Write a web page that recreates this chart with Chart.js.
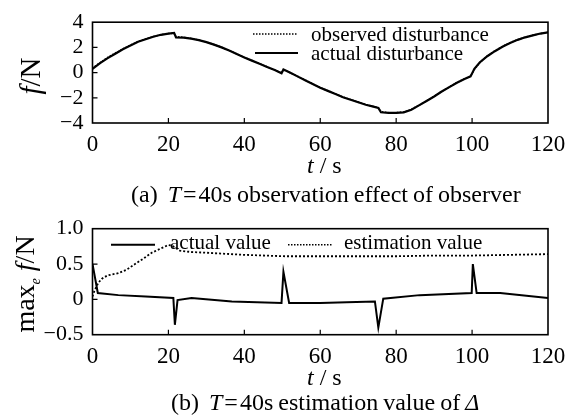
<!DOCTYPE html>
<html lang="en">
<head>
  <meta charset="UTF-8">
  <title>T=40s observer</title>
  <script src="https://cdn.jsdelivr.net/npm/chart.js"></script>
  <style>
    body { margin: 0; background: #fff; }
    #wrap { position: relative; width: 574px; height: 419px; font-family: "Liberation Serif", serif; color: #000; }
    canvas { position: absolute; left: 0; }
    .lbl { position: absolute; white-space: nowrap; line-height: 1; }
    .rot { transform: translate(-50%, -50%) rotate(-90deg); }
    .cap { font-size: 24px; word-spacing: -1px; }
  </style>
</head>
<body>
<div id="wrap">
  <canvas id="topChart" width="574" height="200" style="top:0"></canvas>
  <canvas id="botChart" width="574" height="219" style="top:200px"></canvas>

  <div class="lbl rot" style="font-size:29px; left:30px; top:76px;"><i>f</i>/N</div>
  <div class="lbl rot" style="font-size:28px; left:27px; top:284px;">max<sub style="font-size:14px;font-style:italic">e</sub> <i>f</i>/N</div>

  <div class="lbl" style="font-size:24px; left:307px; top:153px;"><i>t</i> / s</div>
  <div class="lbl" style="font-size:24px; left:307px; top:365px;"><i>t</i> / s</div>

  <div class="lbl cap" style="left:131px; top:182px;">(a)&nbsp;&nbsp;<i>T</i>&#8202;=&#8202;40s observation effect of observer</div>
  <div class="lbl cap" style="left:171px; top:390px;">(b)&nbsp;&nbsp;<i>T</i>&#8202;=&#8202;40s estimation value of <i>Δ</i></div>
</div>

<script>
// x axis (time, s)
const timeTicks = [0, 20, 40, 60, 80, 100, 120];

// (a) disturbance f (N)
const fTicks = [-4, -2, 0, 2, 4];
const fTickLabels = ["−4", "−2", "0", "2", "4"];
const tTop = [0,2,4,6,8,10,12,14,16,18,20,21.5,22,24,26,28,30,32,34,36,38,40,42,44,46,48,49.8,50.3,52,54,56,58,60,62,64,66,68,70,72,74,75.3,76,78,80,82,84,86,88,90,92,94,96,98,99.6,100.6,102,104,106,108,110,112,114,116,118,120];
const fActual = [0.3,0.75,1.15,1.5,1.85,2.15,2.45,2.65,2.85,3.0,3.1,3.15,2.8,2.78,2.7,2.58,2.42,2.22,2.0,1.75,1.48,1.2,0.95,0.7,0.45,0.2,-0.05,0.25,0.0,-0.3,-0.6,-0.9,-1.2,-1.45,-1.7,-1.95,-2.15,-2.35,-2.55,-2.7,-2.8,-3.15,-3.2,-3.2,-3.15,-2.95,-2.6,-2.25,-1.9,-1.5,-1.15,-0.8,-0.5,-0.3,0.3,0.8,1.3,1.7,2.05,2.35,2.6,2.8,2.95,3.1,3.2];
const fObserved = [0.35,0.8,1.2,1.55,1.88,2.18,2.47,2.67,2.86,3.0,3.1,3.12,2.85,2.8,2.71,2.59,2.43,2.23,2.01,1.76,1.49,1.21,0.96,0.71,0.46,0.21,-0.03,0.22,0.0,-0.29,-0.59,-0.89,-1.19,-1.44,-1.69,-1.94,-2.14,-2.34,-2.54,-2.69,-2.79,-3.1,-3.18,-3.18,-3.13,-2.93,-2.59,-2.24,-1.89,-1.49,-1.14,-0.79,-0.49,-0.28,0.25,0.78,1.32,1.73,2.08,2.37,2.62,2.81,2.96,3.1,3.2];

// (b) max_e f (N)
const mTicks = [-0.5, 0, 0.5, 1.0];
const mTickLabels = ["−0.5", "0", "0.5", "1.0"];
const tAct = [0,1.4,6.8,14,21.3,21.7,22.4,26.1,36.7,49.8,50.3,51.8,60,67,74.4,75.3,76.6,86.2,99.9,100.2,101.2,107.4,120];
const mAct = [0.5,0.09,0.06,0.04,0.02,-0.36,-0.01,0.02,-0.03,-0.05,0.39,-0.05,-0.05,-0.04,-0.03,-0.40,0.01,0.06,0.09,0.5,0.09,0.09,0.02];
const tEst = [0,0.5,1.5,2.4,4,6.8,9,11.2,13.5,15.6,18,20,21,23,26,30,33.2,40,50.7,60,70,80,90,100,110,120];
const mEst = [0.04,0.12,0.23,0.29,0.34,0.37,0.42,0.5,0.58,0.66,0.72,0.77,0.76,0.69,0.67,0.66,0.65,0.63,0.61,0.61,0.61,0.61,0.62,0.62,0.63,0.64];

const FONT = "'Liberation Serif', serif";
Chart.defaults.font.family = FONT;

function pts(xs, ys) {
  return xs.map((x, i) => ({ x: x, y: ys[i] }));
}

// frame, inward ticks and in-plot legend
function framePlugin(legendItems, yTickVals) {
  return {
    id: "frame",
    afterDraw(chart) {
      const ctx = chart.ctx;
      const a = chart.chartArea;
      const xs = chart.scales.x, ys = chart.scales.y;
      ctx.save();
      ctx.strokeStyle = "#000";
      ctx.lineWidth = 1.6;
      ctx.strokeRect(a.left, a.top, a.right - a.left, a.bottom - a.top);
      ctx.lineWidth = 1.2;
      ctx.beginPath();
      timeTicks.slice(1, -1).forEach(v => {
        const px = xs.getPixelForValue(v);
        ctx.moveTo(px, a.bottom);
        ctx.lineTo(px, a.bottom - 5);
      });
      yTickVals.slice(1, -1).forEach(v => {
        const py = ys.getPixelForValue(v);
        ctx.moveTo(a.left, py);
        ctx.lineTo(a.left + 5, py);
      });
      ctx.stroke();

      ctx.font = "21px " + FONT;
      ctx.fillStyle = "#000";
      ctx.textBaseline = "alphabetic";
      legendItems.forEach(it => {
        ctx.beginPath();
        ctx.lineWidth = it.dash ? 1.5 : 2;
        ctx.setLineDash(it.dash ? [1.5, 1.5] : []);
        ctx.moveTo(it.x1, it.ly);
        ctx.lineTo(it.x2, it.ly);
        ctx.stroke();
        ctx.setLineDash([]);
        ctx.fillText(it.text, it.tx, it.ty);
      });
      ctx.restore();
    }
  };
}

function makeChart(id, datasets, yMin, yMax, yTickVals, yLabels, pad, xHeight, legendItems) {
  return new Chart(document.getElementById(id), {
    type: "line",
    data: { datasets: datasets },
    options: {
      responsive: false,
      animation: false,
      parsing: false,
      layout: { padding: pad },
      plugins: { legend: { display: false }, tooltip: { enabled: false } },
      elements: { point: { radius: 0 }, line: { tension: 0 } },
      scales: {
        x: {
          type: "linear", min: 0, max: 120,
          afterBuildTicks: s => { s.ticks = timeTicks.map(v => ({ value: v })); },
          afterFit: s => { s.height = xHeight; },
          grid: { display: false, drawTicks: false },
          border: { display: false },
          ticks: { color: "#000", padding: 8, autoSkip: false, maxRotation: 0,
                   font: { family: FONT, size: 23 }, callback: v => String(v) }
        },
        y: {
          type: "linear", min: yMin, max: yMax,
          afterBuildTicks: s => { s.ticks = yTickVals.map(v => ({ value: v })); },
          afterFit: s => { s.width = 92.5; },
          grid: { display: false, drawTicks: false },
          border: { display: false },
          ticks: { color: "#000", padding: 9, autoSkip: false,
                   font: { family: FONT, size: 22 },
                   callback: (v, i) => yLabels[i] }
        }
      }
    },
    plugins: [framePlugin(legendItems, yTickVals)]
  });
}

function drawAll() {
  makeChart("topChart", [
    { data: pts(tTop, fObserved), borderColor: "#000", borderWidth: 1.5, borderDash: [1.5, 1.5] },
    { data: pts(tTop, fActual), borderColor: "#000", borderWidth: 2.2 }
  ], -4, 4, fTicks, fTickLabels, { top: 17.5, right: 26, bottom: 0, left: 0 }, 77, [
    { dash: true, x1: 253, x2: 298, ly: 34, text: "observed disturbance", tx: 311, ty: 41 },
    { dash: false, x1: 255, x2: 298, ly: 53, text: "actual disturbance", tx: 311, ty: 59.5 }
  ]);

  makeChart("botChart", [
    { data: pts(tEst, mEst), borderColor: "#000", borderWidth: 1.8, borderDash: [2, 2] },
    { data: pts(tAct, mAct), borderColor: "#000", borderWidth: 2 }
  ], -0.5, 1.0, mTicks, mTickLabels, { top: 28.7, right: 26, bottom: 0, left: 0 }, 84.3, [
    { dash: false, x1: 111, x2: 155, ly: 44.7, text: "actual value", tx: 170, ty: 48.5 },
    { dash: true, x1: 288, x2: 333, ly: 44.7, text: "estimation value", tx: 344, ty: 49 }
  ]);
}

Promise.all([
  document.fonts.load("22px 'Liberation Serif'"),
  document.fonts.load("italic 22px 'Liberation Serif'")
]).then(drawAll, drawAll);
</script>
</body>
</html>
